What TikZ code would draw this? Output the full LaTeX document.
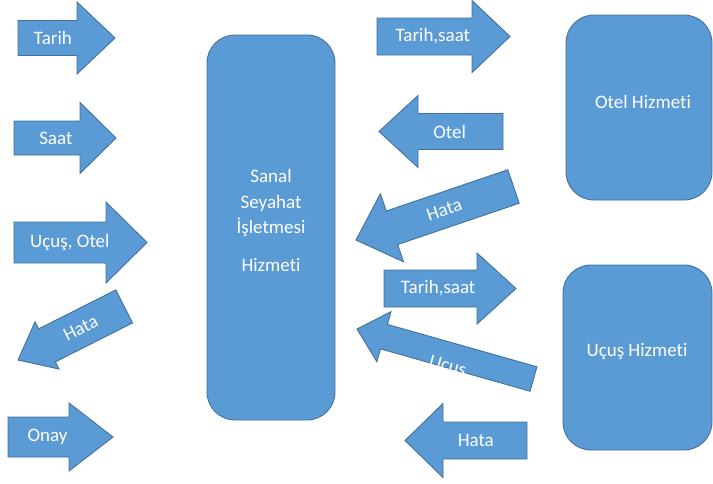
\documentclass[tikz,border=0pt]{standalone}
\usepackage{fontspec}
\setmainfont{Carlito}[RawFeature={-liga;-clig;-calt;-dlig}]
\usetikzlibrary{calc}
\definecolor{fillblue}{HTML}{5B9BD5}
\definecolor{edgeblue}{HTML}{41719C}
\tikzset{
  shapestyle/.style={fill=fillblue, draw=edgeblue, line width=0.9pt, line join=miter},
  txt/.style={text=white, font=\fontsize{19}{25.5}\selectfont, inner sep=0pt},
  roundbox/.style={shapestyle, rounded corners=28pt, inner sep=0pt, rectangle},
}
% #1 name, #2 tail centre, #3 tip, #4 shaft half width, #5 head half width, #6 head length
\newcommand\blockarrowshape[6]{%
  \coordinate (#1-t) at #2;
  \coordinate (#1-p) at #3;
  \coordinate (#1-h) at ($(#1-p)!#6!(#1-t)$);
  \draw[shapestyle] ($(#1-t)!#4!90:(#1-p)$) -- ($(#1-h)!#4!90:(#1-p)$)
    -- ($(#1-h)!#5!90:(#1-p)$) -- (#1-p) -- ($(#1-h)!#5!-90:(#1-p)$)
    -- ($(#1-h)!#4!-90:(#1-p)$) -- ($(#1-t)!#4!-90:(#1-p)$) -- cycle;
}
% #7 text rotation, #8 text, #9 text position (fraction from tail)
\newcommand\blockarrow[9]{%
  \blockarrowshape{#1}{#2}{#3}{#4}{#5}{#6}%
  \node[txt, rotate=#7] (#1) at ($(#1-t)!#9!(#1-p)$) {#8};
}
\begin{document}
\begin{tikzpicture}[x=1pt, y=-1pt]
\useasboundingbox (0,0) rectangle (713,483);

% service boxes
\node[roundbox, minimum width=128pt, minimum height=385pt] (svc) at (271,227.5) {};
\node[txt, align=center] (svctext) at (271,220.5) {Sanal\\Seyahat\\İşletmesi\\[12pt]Hizmeti};

\node[roundbox, minimum width=146pt, minimum height=185pt] (otel) at (639,107.5) {};
\node[txt] (oteltext) at (643,102) {Otel Hizmeti};

\node[roundbox, minimum width=149pt, minimum height=185pt] (ucus) at (637.5,357.5) {};
\node[txt] (ucustext) at (637,352) {Uçuş Hizmeti};

% left arrows
\blockarrow{a1}{(18,38)}{(115,38)}{17.5pt}{36pt}{38pt}{0}{Tarih}{0.36}
\blockarrow{a2}{(14,138)}{(116,138)}{17pt}{35.5pt}{36pt}{0}{Saat}{0.41}
\blockarrow{a3}{(14,242.5)}{(147,242.5)}{20.5pt}{40.5pt}{41pt}{0}{Uçuş, Otel}{0.42}
\blockarrow{a4}{(124.2,306.4)}{(18,360)}{18.5pt}{26.5pt}{32.5pt}{26.8}{Hata}{0.41}
\blockarrow{a5}{(8,437)}{(113,437)}{20pt}{34pt}{44pt}{0}{Onay}{0.376}

% right arrows
\blockarrow{b1}{(377,36.5)}{(510,36.5)}{18.5pt}{36pt}{38pt}{0}{Tarih,saat}{0.42}
\blockarrow{b2}{(503,131.5)}{(379,131.5)}{18pt}{36pt}{39pt}{0}{Otel}{0.43}
\blockarrow{b3}{(513.5,186.5)}{(356,240)}{17.7pt}{36pt}{38pt}{18.8}{Hata}{0.44}
\blockarrow{b4}{(384,288.5)}{(516,288.5)}{18.5pt}{35.5pt}{39pt}{0}{Tarih,saat}{0.41}
\blockarrowshape{b5}{(533.5,379)}{(357,329)}{12.7pt}{26pt}{28pt}
\begin{scope}
  \clip ($(b5-t)!12.7pt!90:(b5-p)$) -- ($(b5-h)!12.7pt!90:(b5-p)$)
    -- ($(b5-h)!12.7pt!-90:(b5-p)$) -- ($(b5-t)!12.7pt!-90:(b5-p)$) -- cycle;
  \coordinate (b5-m) at ($(b5-t)!86pt!(b5-p)$);
  \node[txt, anchor=base, rotate=-15.8] (b5) at ($(b5-m)!16.5pt!90:(b5-p)$) {Uçuş};
\end{scope}
\blockarrow{b6}{(527,440.5)}{(405,440.5)}{18.5pt}{37pt}{38pt}{0}{Hata}{0.42}
\end{tikzpicture}
\end{document}
